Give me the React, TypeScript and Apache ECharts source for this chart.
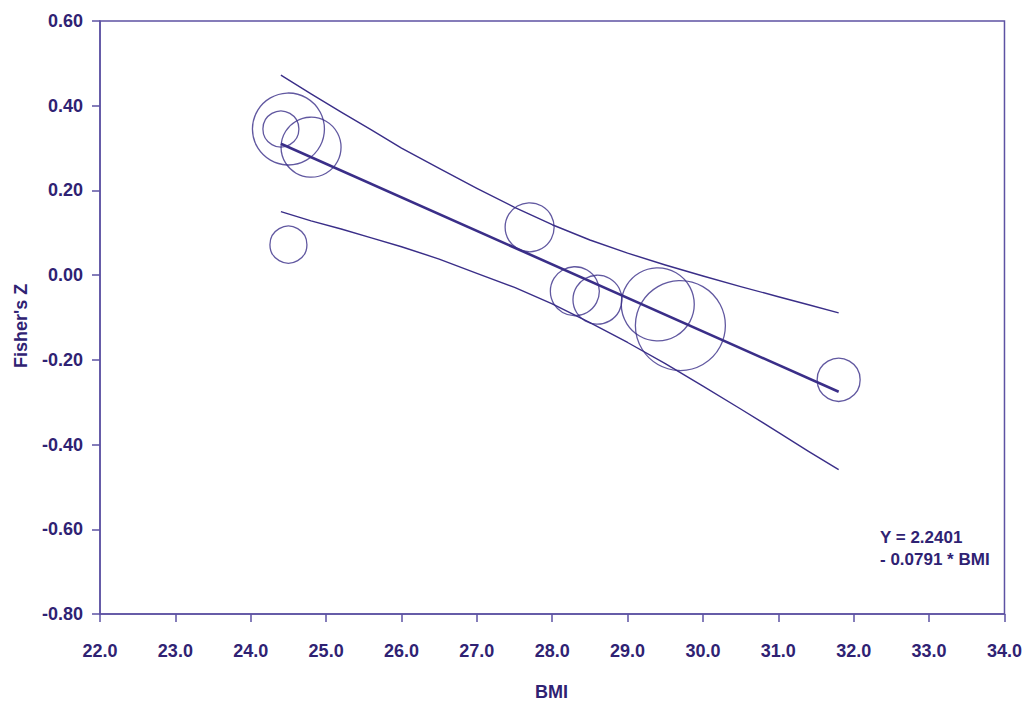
import React, { useEffect, useRef } from "react";
import * as echarts from "echarts";

// Study points: BMI, Fisher's Z, relative weight (bubble size)
const studyBMI = [24.4, 24.5, 24.8, 24.5, 27.7, 28.3, 28.6, 29.4, 29.7, 31.8];
const studyZ = [0.345, 0.345, 0.302, 0.072, 0.113, -0.038, -0.058, -0.069, -0.119, -0.247];
const studyWeight = [18, 36, 30, 18.5, 24.5, 24.5, 24.5, 36.5, 45, 21.5];

// Regression line
const intercept = 2.2401;
const slope = -0.0791;
const regBMI = [24.4, 31.8];

// Confidence band
const upperBMI = [24.4, 24.8, 25.2, 25.6, 26.0, 26.5, 27.0, 27.5, 28.0, 28.5, 29.0, 29.5, 30.0, 30.5, 31.0, 31.4, 31.8];
const upperZ = [0.472, 0.428, 0.385, 0.343, 0.300, 0.252, 0.205, 0.160, 0.119, 0.083, 0.052, 0.024, -0.002, -0.027, -0.051, -0.070, -0.089];
const lowerBMI = [24.4, 24.8, 25.2, 25.6, 26.0, 26.5, 27.0, 27.5, 28.0, 28.5, 29.0, 29.5, 30.0, 30.5, 31.0, 31.4, 31.8];
const lowerZ = [0.150, 0.128, 0.109, 0.088, 0.067, 0.038, 0.004, -0.029, -0.068, -0.112, -0.159, -0.209, -0.262, -0.316, -0.371, -0.416, -0.459];

const xTicks = { min: 22, max: 34, interval: 1 };
const yTicks = { min: -0.8, max: 0.6, interval: 0.2 };

const equationText = ["Y = 2.2401", "- 0.0791 * BMI"];

const TEXT = "#2f2273";
const AXIS = "#5d52a3";
const MARK = "#3a2e88";
const FONT = "'Liberation Sans', Arial, Helvetica, sans-serif";

export default function App() {
  const ref = useRef<HTMLDivElement>(null);
  useEffect(() => {
    if (!ref.current) return;
    const chart = echarts.init(ref.current, undefined, { renderer: "svg" });
    const scatterData = studyBMI.map((x, i) => [x, studyZ[i], studyWeight[i]]);
    const regData = regBMI.map((x) => [x, intercept + slope * x]);
    const upperData = upperBMI.map((x, i) => [x, upperZ[i]]);
    const lowerData = lowerBMI.map((x, i) => [x, lowerZ[i]]);
    chart.setOption({
      animation: false,
      backgroundColor: "#ffffff",
      textStyle: { fontFamily: FONT },
      grid: {
        left: 100,
        right: 20,
        top: 21,
        bottom: 88,
        show: true,
        borderColor: AXIS,
        borderWidth: 1.5,
        backgroundColor: "transparent",
      },
      xAxis: {
        type: "value",
        min: xTicks.min,
        max: xTicks.max,
        interval: xTicks.interval,
        axisLine: { show: true, onZero: false, lineStyle: { color: AXIS, width: 1.5 } },
        axisTick: { show: true, inside: false, length: 8, lineStyle: { color: AXIS, width: 1.5 } },
        splitLine: { show: false },
        axisLabel: {
          color: TEXT,
          fontSize: 18,
          fontWeight: "bold",
          fontFamily: FONT,
          margin: 28,
          formatter: (v: number) => v.toFixed(1),
        },
      },
      yAxis: {
        type: "value",
        min: yTicks.min,
        max: yTicks.max,
        interval: yTicks.interval,
        axisLine: { show: true, onZero: false, lineStyle: { color: AXIS, width: 1.5 } },
        axisTick: { show: true, inside: false, length: 8, lineStyle: { color: AXIS, width: 1.5 } },
        splitLine: { show: false },
        axisLabel: {
          color: TEXT,
          fontSize: 18,
          fontWeight: "bold",
          fontFamily: FONT,
          margin: 17,
          formatter: (v: number) => v.toFixed(2),
        },
      },
      graphic: [
        {
          type: "text",
          left: 535,
          top: 683,
          style: { text: "BMI", fill: TEXT, font: `bold 18px ${FONT}` },
        },
        {
          type: "text",
          x: 12,
          y: 368,
          rotation: Math.PI / 2,
          style: { text: "Fisher's Z", fill: TEXT, font: `bold 18px ${FONT}` },
        },
        {
          type: "text",
          left: 880,
          top: 526,
          style: {
            text: equationText.join("\n"),
            fill: TEXT,
            font: `bold 17px ${FONT}`,
            lineHeight: 22,
          },
        },
      ],
      series: [
        {
          type: "line",
          data: upperData,
          smooth: false,
          symbol: "none",
          lineStyle: { color: MARK, width: 1.4, join: "round" },
          z: 3,
        },
        {
          type: "line",
          data: lowerData,
          smooth: false,
          symbol: "none",
          lineStyle: { color: MARK, width: 1.4, join: "round" },
          z: 3,
        },
        {
          type: "line",
          data: regData,
          symbol: "none",
          lineStyle: { color: MARK, width: 2.6 },
          z: 4,
        },
        {
          type: "scatter",
          data: scatterData,
          symbol: "circle",
          symbolSize: (v: number[]) => v[2] * 2,
          itemStyle: { color: "rgba(0,0,0,0)", borderColor: MARK, borderWidth: 1.3 },
          z: 5,
        },
      ],
    });
    return () => chart.dispose();
  }, []);
  return (
    <div
      ref={ref}
      style={{ position: "fixed", left: 0, top: 0, width: 1025, height: 702, background: "#fff" }}
    />
  );
}
